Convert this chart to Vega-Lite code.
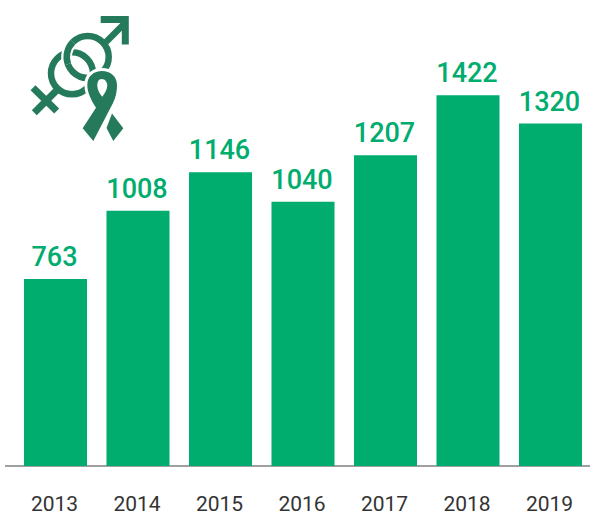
{"$schema":"https://vega.github.io/schema/vega-lite/v6.json","width":585,"height":466,"autosize":"none","padding":{"left":5,"top":0,"right":0,"bottom":46},"background":"white","view":{"stroke":null},"config":{"axis":{"grid":false}},"datasets":{"counts":[{"year":"2013","value":763},{"year":"2014","value":1008},{"year":"2015","value":1146},{"year":"2016","value":1040},{"year":"2017","value":1207},{"year":"2018","value":1422},{"year":"2019","value":1320}],"icon":[{"part":"logo"}]},"data":{"name":"counts"},"layer":[{"mark":{"type":"rule","color":"#a0a0a0","strokeWidth":1.5},"encoding":{"y":{"datum":93,"type":"quantitative","scale":{"domain":[93,1763],"range":[466,0],"zero":false,"nice":false},"axis":null}}},{"mark":{"type":"bar","color":"#00ac6e"},"encoding":{"x":{"field":"year","type":"nominal","sort":null,"scale":{"range":[9.25,586.75],"paddingInner":0.236,"paddingOuter":0.118},"axis":{"title":null,"domain":false,"ticks":false,"labelAngle":0,"labelFont":"Roboto","labelFontSize":21,"labelColor":"#333333","labelPadding":27,"labelOffset":-1}},"y":{"field":"value","type":"quantitative","scale":{"domain":[93,1763],"range":[466,0],"zero":false,"nice":false},"axis":null},"y2":{"datum":93}}},{"mark":{"type":"text","color":"#00ac6e","font":"Roboto","fontSize":27,"fontWeight":500,"baseline":"bottom","dy":-7,"dx":-1},"encoding":{"x":{"field":"year","type":"nominal","sort":null},"y":{"field":"value","type":"quantitative","scale":{"domain":[93,1763],"range":[466,0],"zero":false,"nice":false},"axis":null},"text":{"field":"value","type":"quantitative","format":"d"}}},{"data":{"name":"icon"},"mark":{"type":"point","opacity":1,"filled":false,"size":4,"strokeWidth":6.5,"stroke":"#247a5b","shape":"M11.2 -16.4 A21 21 0 1 0 53.2 -16.4 A21 21 0 1 0 11.2 -16.4 Z"},"encoding":{"x":{"datum":"2013"},"y":{"datum":1500,"type":"quantitative"}}},{"data":{"name":"icon"},"mark":{"type":"point","opacity":1,"filled":false,"size":4,"strokeWidth":6.5,"stroke":"#247a5b","shape":"M50.5 -31.4 L69.5 -50.4"},"encoding":{"x":{"datum":"2013"},"y":{"datum":1500,"type":"quantitative"}}},{"data":{"name":"icon"},"mark":{"type":"point","opacity":1,"filled":false,"size":4,"strokeWidth":7,"stroke":"#247a5b","shape":"M45.2 -53.8 L69.8 -53.8 L69.8 -28.9"},"encoding":{"x":{"datum":"2013"},"y":{"datum":1500,"type":"quantitative"}}},{"data":{"name":"icon"},"mark":{"type":"point","opacity":1,"filled":false,"size":4,"strokeWidth":11,"stroke":"white","shape":"M36.2 -7.3 A21 21 0 0 1 31.35 14.75"},"encoding":{"x":{"datum":"2013"},"y":{"datum":1500,"type":"quantitative"}}},{"data":{"name":"icon"},"mark":{"type":"point","opacity":1,"filled":false,"size":4,"strokeWidth":6.5,"stroke":"#247a5b","shape":"M-4.5 -0.1 A21 21 0 1 0 37.5 -0.1 A21 21 0 1 0 -4.5 -0.1 Z"},"encoding":{"x":{"datum":"2013"},"y":{"datum":1500,"type":"quantitative"}}},{"data":{"name":"icon"},"mark":{"type":"point","opacity":1,"filled":false,"size":4,"strokeWidth":7,"stroke":"#247a5b","shape":"M-22.5 14.3 L1.2 37.6 M-21.2 39.3 L2.5 15.6"},"encoding":{"x":{"datum":"2013"},"y":{"datum":1500,"type":"quantitative"}}},{"data":{"name":"icon"},"mark":{"type":"point","opacity":1,"filled":false,"size":4,"strokeWidth":11,"stroke":"white","shape":"M12.47 -9.22 A21 21 0 0 1 17.35 -31.25"},"encoding":{"x":{"datum":"2013"},"y":{"datum":1500,"type":"quantitative"}}},{"data":{"name":"icon"},"mark":{"type":"point","opacity":1,"filled":false,"size":4,"strokeWidth":6.5,"stroke":"#247a5b","shape":"M12.47 -9.22 A21 21 0 0 1 17.35 -31.25"},"encoding":{"x":{"datum":"2013"},"y":{"datum":1500,"type":"quantitative"}}},{"data":{"name":"icon"},"mark":{"type":"point","opacity":1,"filled":true,"size":4,"strokeWidth":6,"stroke":"white","fill":"white","shape":"M27.2 54.9 L37.8 67.6 L57.5 29.6 C60.5 23.6 61.5 17.6 61.5 11.6 C61.5 2.6 54.5 -2.4 46.5 -2.4 C38.5 -2.4 31.8 2.6 31.8 11.6 C31.8 18.6 35.5 26.6 40.5 34.3 Z"},"encoding":{"x":{"datum":"2013"},"y":{"datum":1500,"type":"quantitative"}}},{"data":{"name":"icon"},"mark":{"type":"point","opacity":1,"filled":true,"size":4,"strokeWidth":0,"fill":"#247a5b","shape":"M27.2 54.9 L37.8 67.6 L57.5 29.6 C60.5 23.6 61.5 17.6 61.5 11.6 C61.5 2.6 54.5 -2.4 46.5 -2.4 C38.5 -2.4 31.8 2.6 31.8 11.6 C31.8 18.6 35.5 26.6 40.5 34.3 Z M46.2 5.6 C49.5 5.6 51.8 8.5 51.8 12.3 C51.8 16 49 20 46.8 23.3 C44 20 41.8 16 41.8 12.3 C41.8 8.5 43 5.6 46.2 5.6 Z M56.5 40 L67.8 54.9 L57.8 67.6 L51 54.6 Z"},"encoding":{"x":{"datum":"2013"},"y":{"datum":1500,"type":"quantitative"}}}]}
